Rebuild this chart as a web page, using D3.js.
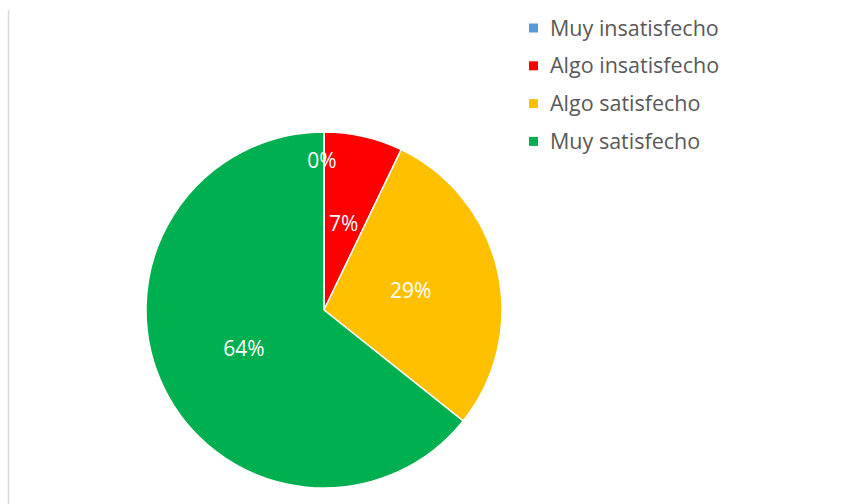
<!DOCTYPE html>
<html>
<head>
<meta charset="utf-8">
<script src="https://cdn.jsdelivr.net/npm/d3@7"></script>
<style>
  body { margin: 0; background: #fff; }
  text { font-family: "Open Sans", "Noto Sans", sans-serif; }
</style>
</head>
<body>
<div id="chart"></div>
<script>
// data
var categories = ["Muy insatisfecho", "Algo insatisfecho", "Algo satisfecho", "Muy satisfecho"];
var values = [0, 1, 4, 9];
var colors = ["#5B9BD5", "#FF0000", "#FFC000", "#00B050"];

var width = 842;
var height = 504;
var radius = 178;
var cx = 324, cy = 310;

var svg = d3.select("#chart")
    .append("svg")
    .attr("width", width)
    .attr("height", height);

// thin border on the left
svg.append("line")
    .attr("x1", 8.5).attr("x2", 8.5)
    .attr("y1", 10).attr("y2", height)
    .attr("stroke", "#d9d9d9")
    .attr("stroke-width", 1.5);

var color = d3.scaleOrdinal()
    .domain(categories)
    .range(colors);

var total = d3.sum(values);

var pie = d3.pie()
    .value(function (d) { return d.value; })
    .sort(null);

var arcs = pie(categories.map(function (c, i) {
    return { name: c, value: values[i] };
}));

var g = svg.append("g")
    .attr("transform", "translate(" + cx + "," + cy + ")");

var arc = d3.arc()
    .innerRadius(0)
    .outerRadius(radius);

g.selectAll("path")
    .data(arcs)
    .enter()
    .append("path")
    .attr("d", arc)
    .attr("fill", function (d) { return color(d.data.name); })
    .attr("stroke", "#fff")
    .attr("stroke-width", 1.5);

var labelArc = d3.arc()
    .innerRadius(radius * 0.5)
    .outerRadius(radius * 0.5);

var zeroArc = d3.arc()
    .innerRadius(radius * 0.84)
    .outerRadius(radius * 0.84);

g.selectAll("text.lbl")
    .data(arcs)
    .enter()
    .append("text")
    .attr("class", "lbl")
    .attr("transform", function (d) {
        var p = d.value === 0 ? zeroArc.centroid(d) : labelArc.centroid(d);
        return "translate(" + (p[0] - (d.value === 0 ? 2 : 0)) + "," + p[1] + ")";
    })
    .attr("text-anchor", "middle")
    .attr("dy", "0.35em")
    .attr("fill", "#fff")
    .style("font-size", "21px")
    .text(function (d) { return Math.round(d.value / total * 100) + "%"; });

// legend
var legend = svg.append("g")
    .attr("transform", "translate(529,28)");

var item = legend.selectAll("g")
    .data(categories)
    .enter()
    .append("g")
    .attr("transform", function (d, i) { return "translate(0," + (i * 37.8) + ")"; });

item.append("rect")
    .attr("x", 0)
    .attr("y", -4.5)
    .attr("width", 9)
    .attr("height", 9)
    .attr("fill", function (d) { return color(d); });

item.append("text")
    .attr("x", 21)
    .attr("dy", "0.35em")
    .attr("fill", "#595959")
    .style("font-size", "21.5px")
    .text(function (d) { return d; });
</script>
</body>
</html>
